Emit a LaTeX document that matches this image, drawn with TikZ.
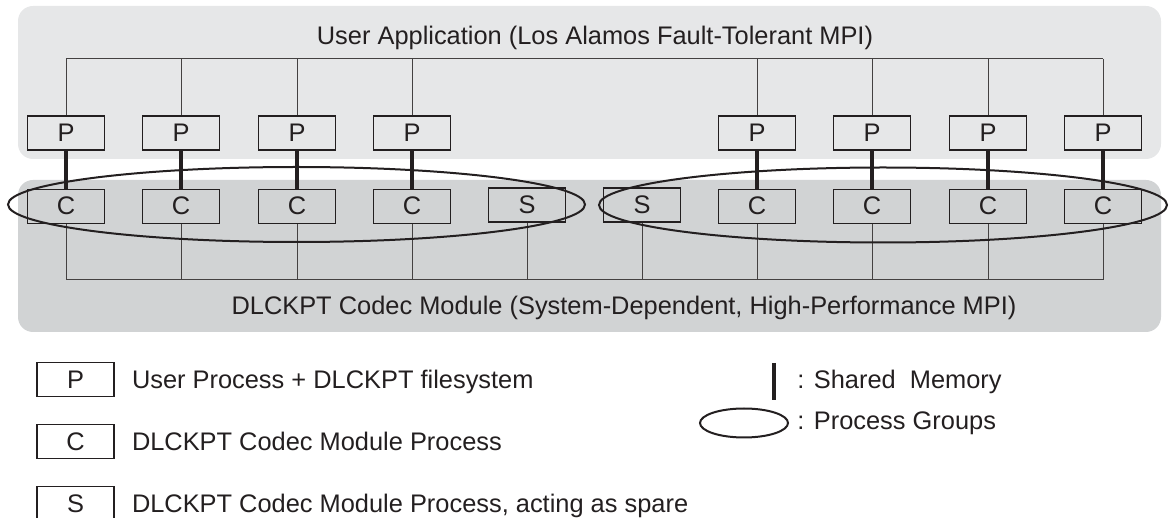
\documentclass[tikz,border=0pt]{standalone}
\usepackage{fontspec}
\setmainfont{Liberation Sans}
\usetikzlibrary{positioning,shapes.geometric}

\definecolor{appgray}{HTML}{E6E7E8}
\definecolor{codecgray}{HTML}{D1D3D4}
\definecolor{ink}{HTML}{231F20}

\begin{document}
\begin{tikzpicture}[
  x=0.5pt, y=-0.5pt,
  font=\fontsize{12.7}{15}\selectfont,
  text=ink,
  procbox/.style={draw=ink, line width=0.6pt, minimum width=38.5pt, minimum height=17pt, inner sep=0pt},
  keytext/.style={anchor=base west, inner sep=0pt},
  bus/.style={draw=ink!85, line width=0.5pt},
  shmem/.style={draw=ink, line width=2pt},
  pgroup/.style={draw=ink, ellipse, line width=1pt, inner sep=0pt}
]
\useasboundingbox (0,0) rectangle (1169,518);

% the two layers
\fill[appgray, rounded corners=7.5pt] (18,6) rectangle (1161,159);
\fill[codecgray, rounded corners=7.5pt] (18,180) rectangle (1161,332);
\node[anchor=base] (apptitle) at (595,45) {User Application (Los Alamos Fault-Tolerant MPI)};
\node[anchor=base] (codectitle) at (624,315) {DLCKPT Codec Module (System-Dependent, High-Performance MPI)};

% user processes and their codec processes
\foreach \i/\x in {1/66,2/181,3/297,4/412,5/757,6/872,7/988,8/1103} {
  \node[procbox] (p\i) at (\x,133) {P};
  \node[procbox, below=19pt of p\i] (c\i) {C};
}
\node[procbox] (sl) at (527,205) {S};
\node[procbox] (sr) at (642,205) {S};

% buses
\coordinate (appbus) at (0,59);
\coordinate (codecbus) at (0,280);
\draw[bus] (p1.north |- appbus) -- (p8.north |- appbus);
\foreach \i in {1,...,8}
  \draw[bus] (p\i.north) -- (p\i.north |- appbus);
\draw[bus] (c1.south |- codecbus) -- (c8.south |- codecbus);
\foreach \n in {c1,c2,c3,c4,sl,sr,c5,c6,c7,c8}
  \draw[bus] (\n.south) -- (\n.south |- codecbus);

% shared memory
\foreach \i in {1,...,8}
  \draw[shmem] (p\i.south) -- (c\i.north);

% process groups
\node[pgroup, minimum width=288.5pt, minimum height=37.5pt] (grpleft) at (296.5,204.5) {};
\node[pgroup, minimum width=284pt, minimum height=37.5pt] (grpright) at (883,205) {};

% legend
\node[procbox] (keyp) at (75.5,379.5) {P};
\node[procbox, below=13.5pt of keyp] (keyc) {C};
\node[procbox, below=13.5pt of keyc] (keys) {S};
\node[keytext] (keyptext) at ([xshift=8.5pt, yshift=-4.5pt]keyp.east) {User Process + DLCKPT filesystem};
\node[keytext] (keyctext) at ([xshift=8.5pt, yshift=-4.5pt]keyc.east) {DLCKPT Codec Module Process};
\node[keytext] (keystext) at ([xshift=8.5pt, yshift=-4.5pt]keys.east) {DLCKPT Codec Module Process, acting as spare};

\coordinate (shma) at (774,363);
\coordinate (shmb) at (774,400);
\draw[shmem] (shma) -- (shmb);
\node[keytext] (shmtext) at (797,389) {: Shared\ \ Memory};
\node[pgroup, minimum width=44pt, minimum height=14.5pt] (keygrp) at (744,423) {};
\node[keytext] (grptext) at (797,430) {: Process Groups};
\end{tikzpicture}
\end{document}
